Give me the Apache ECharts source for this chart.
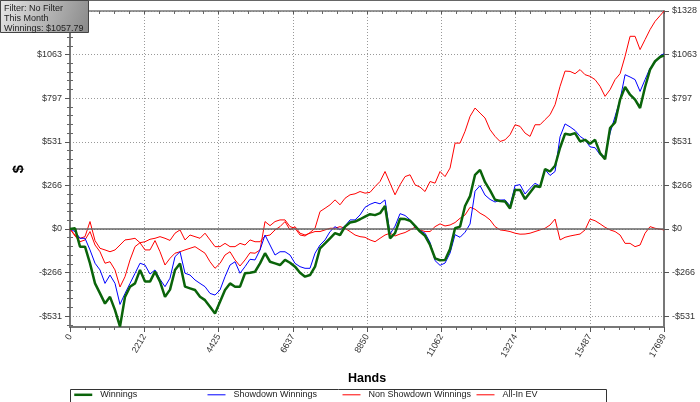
<!DOCTYPE html>
<html><head><meta charset="utf-8">
<script src="https://cdn.jsdelivr.net/npm/echarts@6/dist/echarts.min.js"></script>
<style>html,body{margin:0;padding:0;background:#fff}#c{width:700px;height:402px}</style>
</head><body><div id="c"></div>
<script>
const hands = [0,149,298,447,596,745,894,1043,1192,1341,1490,1639,1788,1937,2086,2235,2384,2533,2682,2831,
2980,3129,3278,3427,3576,3725,3874,4023,4172,4321,4470,4619,4768,4917,5066,5215,5364,5513,5662,5811,
5960,6109,6258,6407,6556,6705,6854,7003,7152,7301,7450,7599,7748,7897,8046,8195,8344,8493,8642,8791,
8940,9089,9238,9387,9536,9685,9834,9983,10132,10281,10430,10579,10728,10877,11026,11175,11324,11473,11622,11771,
11920,12069,12218,12367,12516,12665,12814,12963,13112,13261,13410,13559,13708,13857,14006,14155,14304,14453,14602,14751,
14900,15049,15198,15347,15496,15645,15794,15943,16092,16241,16390,16539,16688,16837,16986,17135,17284,17433,17582,17699];

const winnings = [0,4,-108,-108,-210,-332,-393,-455,-414,-495,
-595,-414,-352,-332,-250,-321,-321,-260,-321,-414,
-370,-250,-210,-352,-362,-372,-413,-434,-474,-515,
-444,-372,-332,-352,-352,-270,-267,-261,-210,-148,
-200,-210,-220,-189,-206,-230,-267,-291,-281,-230,
-118,-88,-57,-26,-37,14,39,45,59,75,
90,84,96,140,-57,-26,62,60,50,19,
-16,-42,-98,-179,-191,-190,-123,4,14,140,
200,330,360,285,235,178,170,167,125,238,
238,182,222,262,255,365,350,385,495,580,
574,584,533,543,519,543,462,425,615,649,
788,865,818,788,737,865,971,1022,1048,1058];

const showdown = [0,-16,-57,-57,-128,-209,-250,-332,-281,-332,
-460,-393,-332,-271,-209,-220,-275,-250,-307,-352,
-300,-169,-139,-270,-281,-311,-332,-352,-393,-403,
-372,-291,-220,-200,-270,-230,-185,-189,-128,-37,
-98,-159,-139,-139,-159,-210,-230,-240,-240,-148,
-98,-67,-16,14,-6,18,55,55,85,132,
150,162,153,177,-31,17,93,82,56,9,
-10,-26,-82,-193,-222,-208,-147,-35,-51,-20,
30,230,264,206,180,164,176,177,141,264,
270,213,248,278,261,361,326,350,562,640,
622,600,564,543,500,495,452,441,584,686,
788,940,926,910,838,910,981,1016,1056,1068];

const nonShowdown = [0,-37,-57,-47,45,-71,-118,-128,-139,-128,
-98,-67,-63,-57,-84,-78,-63,-57,-47,-57,
-70,-26,-6,-67,-37,-47,-57,-26,-67,-108,
-108,-88,-108,-108,-88,-98,-67,-78,-78,-43,
-37,-6,14,45,-6,14,-26,-37,-26,-16,
-16,-6,4,4,14,4,-16,-37,-47,-51,
-67,-78,-57,-37,-26,-43,-31,-22,-6,10,
-6,-16,-16,14,31,18,24,39,65,85,
132,120,96,79,55,14,-6,-10,-16,-26,
-32,-31,-26,-16,-6,4,24,60,-67,-51,
-43,-37,-31,-6,60,50,31,10,-6,-16,
-37,-88,-88,-108,-98,-26,14,4,-2,-6];

const allInEV = [0,-43,-78,-67,-16,-98,-139,-209,-200,-250,
-354,-291,-189,-108,-84,-128,-128,-71,-139,-220,
-179,-148,-139,-128,-118,-108,-128,-148,-200,-240,
-210,-159,-139,-189,-226,-189,-145,-148,-128,45,
20,45,55,55,14,4,-37,-43,-22,4,
106,126,147,177,147,187,208,214,228,218,
223,258,289,350,279,208,269,319,330,269,
255,228,289,279,350,319,371,523,523,595,
686,737,706,676,605,564,533,543,574,635,
625,584,564,635,635,666,696,757,869,962,
960,946,971,940,930,910,869,808,849,910,
946,1052,1174,1174,1093,1154,1215,1265,1300,1328];

const seriesNames = ['Winnings','Showdown Winnings','Non Showdown Winnings','All-In EV'];
const yTickValues = [-531.28,-265.64,0,265.64,531.28,796.92,1062.56,1328.2];
const yLeftLabelValues = [-531.28,-265.64,0,265.64,531.28,796.92,1062.56];
const infoLines = ['Filter: No Filter','This Month','Winnings: $1057.79'];

const yMin = -597.69, yMax = 1328.2, yStep = 265.64;
const xMax = 17699, xStep = 17699 / 8;
const yMinor = [];
for (let k = -11; k <= 24; k++) if (k % 5 !== 0) yMinor.push(k * yStep / 5);

const fmtY = v => (v < 0 ? '-$' : '$') + Math.abs(Math.round(v));
const FONT = 'Liberation Sans';
const axisCol = '#777';
const gridLine = {show:true, lineStyle:{color:'#999', width:1, type:[1,2]}};

function yAxisMain(pos, showName) {
  return {
    type:'value', position:pos, min:yMin, max:yMax, offset:0,
    name: showName ? '$' : '', nameLocation:'middle', nameRotate:90, nameGap:43,
    nameTextStyle:{fontSize:15, fontWeight:'bold', color:'#000', fontFamily:FONT},
    axisLine:{show:true, onZero:false, lineStyle:{color:axisCol, width:2}},
    axisTick:{show:true, customValues:yTickValues, length:5, lineStyle:{color:'#555'}},
    axisLabel:{show:true, customValues: pos === 'left' ? yLeftLabelValues : yTickValues, formatter:fmtY, fontSize:9, color:'#333', fontFamily:FONT, margin:8},
    splitLine: pos === 'left' ? gridLine : {show:false}
  };
}
function yAxisMinor(pos) {
  return {
    type:'value', position:pos, min:yMin, max:yMax, offset:0,
    axisLine:{show:false},
    axisTick:{show:true, customValues:yMinor, length:3, lineStyle:{color:'#666'}},
    axisLabel:{show:false}, splitLine:{show:false}
  };
}

const mk = (arr) => hands.map((h, i) => [h, arr[i]]);
const chart = echarts.init(document.getElementById('c'), null, {renderer:'canvas'});
chart.setOption({
  animation:false,
  backgroundColor:'#fff',
  textStyle:{fontFamily:FONT},
  grid:{left:70, right:36, top:11, bottom:75, containLabel:false, outerBoundsMode:'none'},
  xAxis:[{
    type:'value', position:'bottom', min:0, max:xMax, interval:xStep,
    name:'Hands', nameLocation:'middle', nameGap:45,
    nameTextStyle:{fontSize:12.5, fontWeight:'bold', color:'#000', fontFamily:FONT},
    axisLine:{show:true, onZero:false, lineStyle:{color:axisCol, width:2}},
    axisTick:{show:true, length:5, lineStyle:{color:'#555'}},
    minorTick:{show:true, splitNumber:5, length:3, lineStyle:{color:'#666'}},
    axisLabel:{show:true, rotate:60, formatter:v => String(Math.round(v)), fontSize:9, color:'#333', margin:8, fontFamily:FONT, showMinLabel:true, showMaxLabel:true, hideOverlap:false},
    splitLine:gridLine
  },{
    type:'value', position:'top', min:0, max:xMax, interval:xStep,
    axisLine:{show:true, onZero:false, lineStyle:{color:axisCol, width:1.5}},
    axisTick:{show:true, inside:true, length:3, lineStyle:{color:'#555'}},
    minorTick:{show:true, splitNumber:5, length:3, lineStyle:{color:'#666'}},
    axisLabel:{show:false}, splitLine:{show:false}
  }],
  yAxis:[yAxisMain('left', true), yAxisMain('right', false), yAxisMinor('left'), yAxisMinor('right')],
  legend: seriesNames.map((n, i) => ({
    data:[n], left:[73,207,342,476][i], top:390, padding:0, itemWidth:18, itemHeight:12,
    lineStyle:{width:'inherit'},
    itemStyle:{opacity:0},
    textStyle:{fontSize:9, color:'#222', fontFamily:FONT, padding:[0,0,0,3]},
    selectedMode:false
  })),
  graphic:[
    {type:'line', shape:{x1:0, y1:0.5, x2:700, y2:0.5}, style:{stroke:'#666', lineWidth:1}, z:100},
    {type:'rect', shape:{x:70.5, y:389.5, width:536, height:20}, style:{fill:'none', stroke:'#333', lineWidth:1}, z:100},
    {type:'rect', z:200, shape:{x:0.5, y:0.5, width:88, height:32},
     style:{fill:new echarts.graphic.LinearGradient(0,0,1,1,[{offset:0,color:'#e6e6e6'},{offset:1,color:'#888888'}]), stroke:'#444', lineWidth:1}},
    {type:'text', z:201, x:4, y:4, style:{text:infoLines[0], font:'9px "Liberation Sans"', fill:'#222'}},
    {type:'text', z:201, x:4, y:14, style:{text:infoLines[1], font:'9px "Liberation Sans"', fill:'#222'}},
    {type:'text', z:201, x:4, y:24, style:{text:infoLines[2], font:'9px "Liberation Sans"', fill:'#222'}}
  ],
  series:[
    {name:seriesNames[0], type:'line', data:mk(winnings), symbol:'none', z:5,
     lineStyle:{color:'#0a640a', width:2.5}, itemStyle:{color:'#0a640a'}},
    {name:seriesNames[1], type:'line', data:mk(showdown), symbol:'none', z:4,
     lineStyle:{color:'#0000ff', width:1}, itemStyle:{color:'#0000ff'}},
    {name:seriesNames[2], type:'line', data:mk(nonShowdown), symbol:'none', z:3,
     lineStyle:{color:'#ff0000', width:1}, itemStyle:{color:'#ff0000'},
     markLine:{silent:true, symbol:['none','none'], label:{show:false},
       lineStyle:{color:'#666', width:1.5, type:'solid'}, data:[{yAxis:0}], animation:false}},
    {name:seriesNames[3], type:'line', data:mk(allInEV), symbol:'none', z:3,
     lineStyle:{color:'#ff0000', width:1}, itemStyle:{color:'#ff0000'}}
  ]
});
</script></body></html>
